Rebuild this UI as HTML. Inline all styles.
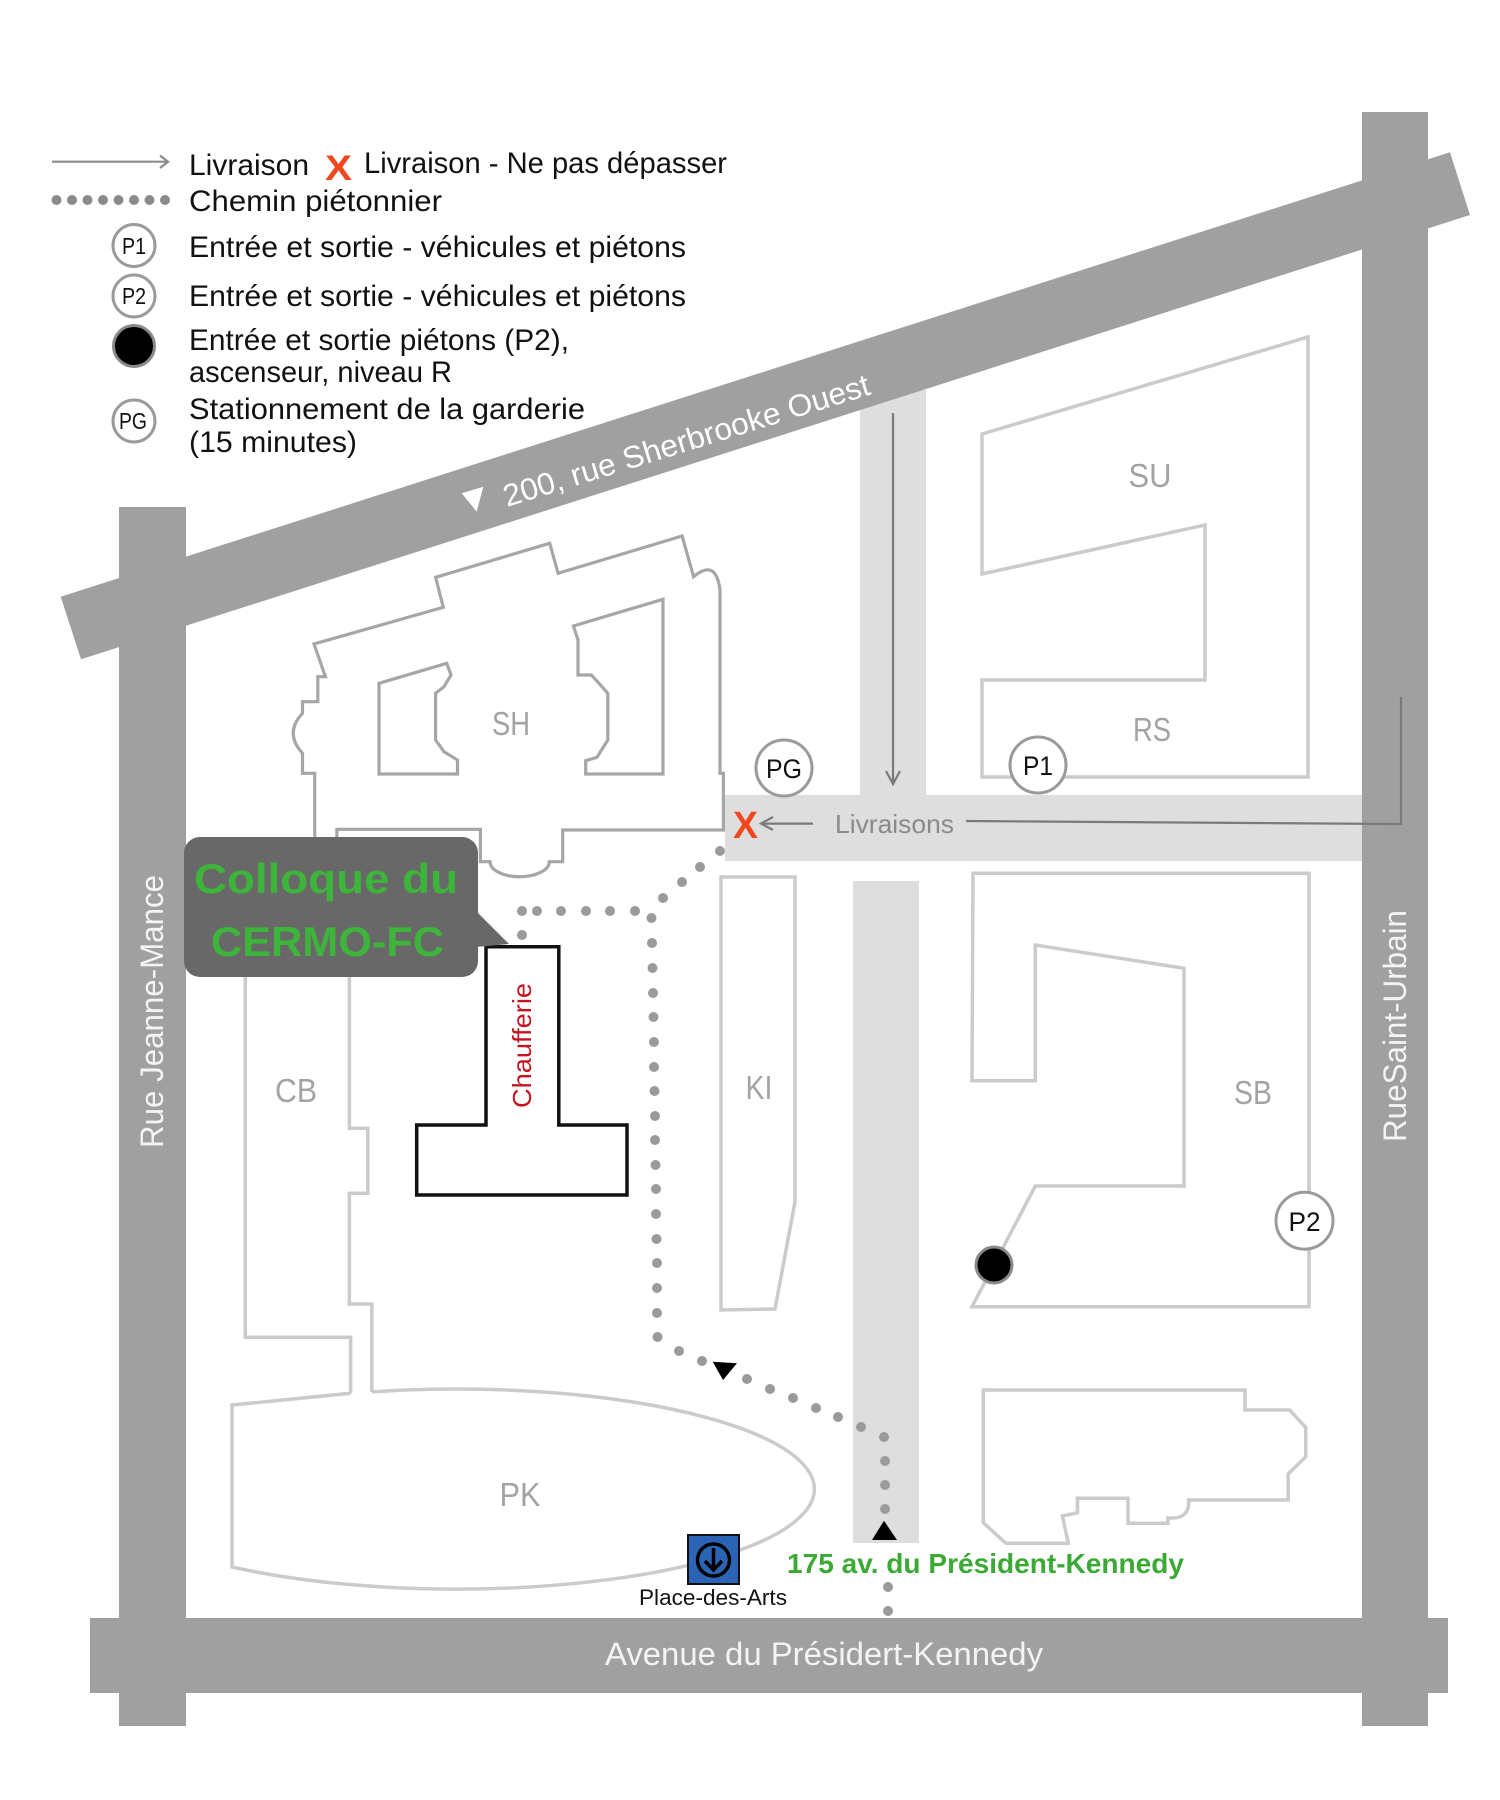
<!DOCTYPE html>
<html>
<head>
<meta charset="utf-8">
<style>
  html, body { margin: 0; padding: 0; background: #ffffff; }
  svg { display: block; }
  text { font-family: "Liberation Sans", "DejaVu Sans", sans-serif; }
</style>
</head>
<body>
<svg width="1500" height="1800" viewBox="0 0 1500 1800" xmlns="http://www.w3.org/2000/svg">
  <rect x="0" y="0" width="1500" height="1800" fill="#ffffff"/>

  <!-- Light service roads -->
  <rect x="860" y="390" width="66" height="410" fill="#dedede"/>
  <rect x="725" y="795" width="640" height="66" fill="#dedede"/>
  <rect x="853" y="881" width="66" height="662" fill="#dedede"/>

  <!-- Main roads -->
  <rect x="119" y="507" width="67" height="1219" fill="#a0a0a0"/>
  <rect x="1362" y="112" width="66" height="1614" fill="#a0a0a0"/>
  <rect x="90" y="1618" width="1358" height="75" fill="#a0a0a0"/>
  <polygon points="60.7,596.7 1450,152.3 1470,215 81,659.3" fill="#a0a0a0"/>

  <!-- Road labels -->
  <polygon points="461.7,493.3 483.3,486.7 476.7,511.7" fill="#ffffff"/>
  <text x="0" y="0" transform="translate(507,507) rotate(-17.2)" font-size="31" fill="#ffffff" textLength="382" lengthAdjust="spacingAndGlyphs">200, rue Sherbrooke Ouest</text>
  <text x="0" y="0" transform="translate(163,1148) rotate(-90)" font-size="32" fill="#f4f4f4" textLength="273" lengthAdjust="spacingAndGlyphs">Rue Jeanne-Mance</text>
  <text x="0" y="0" transform="translate(1406,1142) rotate(-90)" font-size="32" fill="#f4f4f4" textLength="232" lengthAdjust="spacingAndGlyphs">RueSaint-Urbain</text>
  <text x="605" y="1665" font-size="32" fill="#f4f4f4" textLength="438" lengthAdjust="spacingAndGlyphs">Avenue du Présidert-Kennedy</text>

  <!-- Delivery arrows -->
  <g stroke="#7a7a7a" stroke-width="2.2" fill="none">
    <line x1="893" y1="413" x2="893" y2="784"/>
    <polyline points="886,771 893,784 900,771"/>
    <polyline points="966,821 1401,824 1401,697"/>
    <line x1="813" y1="823.6" x2="761" y2="823.6"/>
    <polyline points="773,817 761,823.6 773,830"/>
  </g>
  <text x="835" y="833" font-size="26" fill="#8a8a8a" textLength="119" lengthAdjust="spacingAndGlyphs">Livraisons</text>
  <text x="733" y="838" font-size="38" font-weight="bold" fill="#f1471d" textLength="25" lengthAdjust="spacingAndGlyphs">X</text>

  <!-- SH building -->
  <g fill="none" stroke="#a6a6a6" stroke-width="3.2" stroke-linejoin="miter">
    <path d="M314.7,840 L314.7,773.3 L302.5,773.3 L302.5,753.3 Q284,733 302.5,713.3 L302.5,701.7 L317.8,701.7 L317.8,676.7 L325.4,676.7 L314,644 L443.3,607.3 L435.6,577.3 L549.7,543.3 L558.1,573.3 L682.1,536 L693.6,576.7 Q716,558 720,590 L720,773.3 L723.4,773.3 L723.4,830 L562.7,830 L562.7,861.7 L549.3,861.7 A29.6,15 0 0 1 490,861.7 L480.4,861.7 L480.4,829.3 L336.9,829.3 L336.9,840"/>
    <path d="M379,683.3 L379,774 L457.5,774 L457.5,760 L444,751.7 L435.6,740 L435.6,693.3 L444,686.7 L451,675 L446.7,663.3 Z"/>
    <path d="M573.4,626 L663,599.3 L663,774 L585.7,774 L585.7,760.7 L597,757.3 L607.8,740 L607.8,693.3 L599,683.3 L591.4,675 L578,675 L578,640 Z"/>
  </g>

  <!-- Other buildings -->
  <g fill="none" stroke="#cbcbcb" stroke-width="3.5" stroke-linejoin="miter">
    <path d="M982,434 L1308,337 L1308,777 L982,777 L982,680 L1205,680 L1205,525 L982,574 Z"/>
    <path d="M973,873.3 L1309,873.3 L1309,1306.7 L972,1306.7 L1035.3,1186 L1184,1186 L1184,968.3 L1035.3,945 L1035.3,1080.7 L972,1080.7 Z"/>
    <path d="M721,877 L795,877 L795,1202 L775,1309 L721,1310 Z"/>
    <path d="M983.3,1390 L1245,1390 L1245,1410 L1289.6,1410 L1305.7,1427.3 L1305.7,1456.7 L1288.2,1474 L1288.2,1500 L1188.6,1500 Q1190,1518 1172,1518 L1168,1518 L1168,1523.3 L1128,1523.3 L1128,1498.3 L1077.5,1498.3 L1077.5,1512.7 L1062.4,1516 L1068.3,1543.3 L1005.9,1543.3 L983.3,1522.7 Z"/>
    <path d="M245.3,976 L245.3,1337.3 L350.6,1337.3 L350.6,1393.3"/>
    <path d="M349.4,976 L349.4,1128.3 L367.8,1128.3 L367.8,1193.3 L349.4,1193.3 L349.4,1304 L371.8,1304 L371.8,1391.9"/>
    <path d="M371.8,1391.9 A358,100 0 1 1 232,1567 L232,1405 L350.6,1393.3"/>
  </g>

  <!-- Building labels -->
  <g font-size="33" fill="#a3a3a3" text-anchor="middle">
    <text x="511" y="735" textLength="38" lengthAdjust="spacingAndGlyphs">SH</text>
    <text x="1150" y="487" textLength="43" lengthAdjust="spacingAndGlyphs">SU</text>
    <text x="1152" y="741" textLength="38" lengthAdjust="spacingAndGlyphs">RS</text>
    <text x="296" y="1102" textLength="42" lengthAdjust="spacingAndGlyphs">CB</text>
    <text x="759" y="1099" textLength="27" lengthAdjust="spacingAndGlyphs">KI</text>
    <text x="1253" y="1104" textLength="38" lengthAdjust="spacingAndGlyphs">SB</text>
    <text x="520" y="1506" textLength="41" lengthAdjust="spacingAndGlyphs">PK</text>
  </g>

  <!-- Chaufferie -->
  <path d="M486,946.7 L558.8,946.7 L558.8,1125 L627,1125 L627,1195 L416.7,1195 L416.7,1125 L486,1125 Z" fill="none" stroke="#111111" stroke-width="3.5"/>
  <text x="0" y="0" transform="translate(531,1108) rotate(-90)" font-size="26" fill="#c41420" textLength="125" lengthAdjust="spacingAndGlyphs">Chaufferie</text>

  <!-- Pedestrian path -->
  <g fill="#9a9a9a">
    <circle cx="522" cy="935" r="5"/><circle cx="522" cy="911" r="5"/><circle cx="537" cy="911" r="5"/>
    <circle cx="561" cy="911" r="5"/><circle cx="586" cy="911" r="5"/><circle cx="610" cy="911" r="5"/>
    <circle cx="635" cy="911" r="5"/><circle cx="651.5" cy="918" r="5"/>
    <circle cx="663" cy="898" r="5"/><circle cx="682" cy="882" r="5"/><circle cx="700" cy="867" r="5"/><circle cx="720" cy="851" r="5"/>
    <circle cx="652" cy="943" r="5"/><circle cx="652.5" cy="968" r="5"/><circle cx="653" cy="993" r="5"/>
    <circle cx="653.5" cy="1017" r="5"/><circle cx="654" cy="1042" r="5"/><circle cx="654" cy="1067" r="5"/>
    <circle cx="654.5" cy="1091" r="5"/><circle cx="655" cy="1116" r="5"/><circle cx="655" cy="1140" r="5"/>
    <circle cx="655.5" cy="1165" r="5"/><circle cx="656" cy="1189" r="5"/><circle cx="656" cy="1214" r="5"/>
    <circle cx="656.5" cy="1239" r="5"/><circle cx="657" cy="1263" r="5"/><circle cx="657" cy="1288" r="5"/>
    <circle cx="657" cy="1313" r="5"/><circle cx="657.5" cy="1337" r="5"/>
    <circle cx="679" cy="1351" r="5"/><circle cx="702" cy="1361" r="5"/>
    <circle cx="747" cy="1379" r="5"/><circle cx="770" cy="1389" r="5"/><circle cx="793" cy="1398" r="5"/>
    <circle cx="816" cy="1408" r="5"/><circle cx="838" cy="1417" r="5"/><circle cx="861" cy="1427" r="5"/>
    <circle cx="884" cy="1437" r="5"/>
    <circle cx="885" cy="1461" r="5"/><circle cx="885" cy="1485" r="5"/><circle cx="885" cy="1509" r="5"/>
    <circle cx="888" cy="1587" r="5"/><circle cx="888" cy="1611" r="5"/>
  </g>
  <polygon points="712.7,1361.7 737,1363.3 723,1380" fill="#000000"/>
  <polygon points="884,1520.7 872,1540 897,1540" fill="#000000"/>

  <!-- Callout -->
  <rect x="184" y="837" width="294" height="140" rx="16" ry="16" fill="#686868"/>
  <polygon points="476,911 509,944 476,947" fill="#686868"/>
  <text x="194" y="893" font-size="42" font-weight="bold" fill="#3db53a" textLength="264" lengthAdjust="spacingAndGlyphs">Colloque du</text>
  <text x="211" y="956" font-size="42" font-weight="bold" fill="#3db53a" textLength="233" lengthAdjust="spacingAndGlyphs">CERMO-FC</text>

  <!-- Map markers -->
  <g fill="#ffffff" stroke="#9a9a9a" stroke-width="3">
    <circle cx="784" cy="768" r="28"/>
    <circle cx="1038" cy="765" r="28"/>
    <circle cx="1304.5" cy="1220.7" r="28.5"/>
  </g>
  <g font-size="27" fill="#111111" text-anchor="middle">
    <text x="784" y="778" textLength="36" lengthAdjust="spacingAndGlyphs">PG</text>
    <text x="1038" y="775" textLength="30" lengthAdjust="spacingAndGlyphs">P1</text>
    <text x="1304.5" y="1231" textLength="32" lengthAdjust="spacingAndGlyphs">P2</text>
  </g>
  <circle cx="994" cy="1265" r="18" fill="#000000" stroke="#8a8a8a" stroke-width="3"/>

  <!-- Metro -->
  <rect x="688" y="1535" width="51" height="49" fill="#2b63b5" stroke="#111111" stroke-width="2"/>
  <circle cx="713.5" cy="1560" r="16" fill="#2b63b5" stroke="#000000" stroke-width="3.5"/>
  <line x1="713.5" y1="1548" x2="713.5" y2="1570" stroke="#000000" stroke-width="3.5"/>
  <polyline points="705,1561 713.5,1570 722,1561" fill="none" stroke="#000000" stroke-width="3.5"/>
  <text x="639" y="1605" font-size="22" fill="#111111" textLength="148" lengthAdjust="spacingAndGlyphs">Place-des-Arts</text>
  <text x="787" y="1573" font-size="28" font-weight="bold" fill="#3aaa35" textLength="397" lengthAdjust="spacingAndGlyphs">175 av. du Président-Kennedy</text>

  <!-- Legend -->
  <g stroke="#8a8a8a" stroke-width="2.2" fill="none">
    <line x1="52" y1="161.7" x2="168" y2="161.7"/>
    <polyline points="160,155.5 168,161.7 160,168"/>
  </g>
  <g fill="#8a8a8a">
    <circle cx="56.5" cy="200" r="5"/><circle cx="72" cy="200" r="5"/><circle cx="87.5" cy="200" r="5"/>
    <circle cx="103" cy="200" r="5"/><circle cx="118.5" cy="200" r="5"/><circle cx="134" cy="200" r="5"/>
    <circle cx="149.5" cy="200" r="5"/><circle cx="165" cy="200" r="5"/>
  </g>
  <text x="325" y="180" font-size="35" font-weight="bold" fill="#f1471d" textLength="27" lengthAdjust="spacingAndGlyphs">X</text>
  <g fill="#ffffff" stroke="#9a9a9a" stroke-width="3">
    <circle cx="134" cy="245.5" r="21"/>
    <circle cx="134" cy="296" r="21"/>
    <circle cx="134" cy="421" r="21"/>
  </g>
  <circle cx="134" cy="346" r="20.5" fill="#000000" stroke="#8a8a8a" stroke-width="3"/>
  <g font-size="23" fill="#111111" text-anchor="middle">
    <text x="134" y="254" textLength="24" lengthAdjust="spacingAndGlyphs">P1</text>
    <text x="134" y="304" textLength="24" lengthAdjust="spacingAndGlyphs">P2</text>
    <text x="133" y="429" textLength="28" lengthAdjust="spacingAndGlyphs">PG</text>
  </g>
  <g font-size="30" fill="#111111">
    <text x="189" y="175" textLength="120" lengthAdjust="spacingAndGlyphs">Livraison</text>
    <text x="364" y="173" textLength="363" lengthAdjust="spacingAndGlyphs">Livraison - Ne pas dépasser</text>
    <text x="189" y="211" textLength="253" lengthAdjust="spacingAndGlyphs">Chemin piétonnier</text>
    <text x="189" y="257" textLength="497" lengthAdjust="spacingAndGlyphs">Entrée et sortie - véhicules et piétons</text>
    <text x="189" y="306" textLength="497" lengthAdjust="spacingAndGlyphs">Entrée et sortie - véhicules et piétons</text>
    <text x="189" y="350" textLength="380" lengthAdjust="spacingAndGlyphs">Entrée et sortie piétons (P2),</text>
    <text x="189" y="382" textLength="263" lengthAdjust="spacingAndGlyphs">ascenseur, niveau R</text>
    <text x="189" y="419" textLength="396" lengthAdjust="spacingAndGlyphs">Stationnement de la garderie</text>
    <text x="189" y="452" textLength="168" lengthAdjust="spacingAndGlyphs">(15 minutes)</text>
  </g>
</svg>
</body>
</html>
